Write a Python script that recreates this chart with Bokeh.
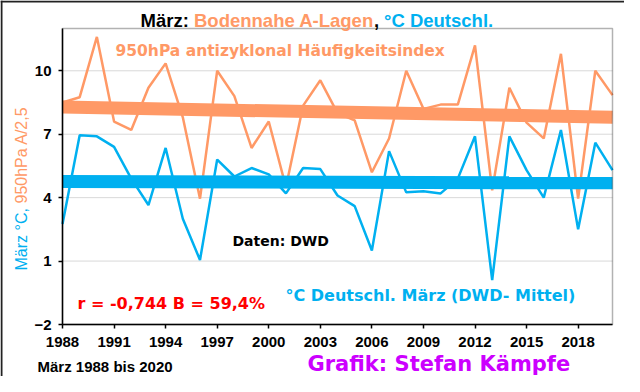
import math
import numpy as np
from bokeh.plotting import figure
from bokeh.models import Range1d, FixedTicker, Label, Span, BoxAnnotation
from bokeh.embed import file_html
from bokeh.resources import INLINE

# ---------------- data ----------------
years = list(range(1988, 2021))
a_lagen = [8.5, 8.75, 11.6, 7.6, 7.2, 9.2, 10.35, 7.8, 3.95, 10.0,
           8.8, 6.35, 7.6, 4.5, 8.35, 9.55, 8.0, 7.65, 5.2, 6.8,
           10.0, 8.2, 8.4, 8.4, 11.2, 4.35, 9.2, 7.55, 6.8, 10.8,
           3.95, 10.0, 8.85]
temp_de = [2.75, 6.95, 6.9, 6.4, 4.9, 3.65, 6.35, 3.0, 1.05, 5.8,
           5.0, 5.4, 5.1, 4.2, 5.4, 5.35, 4.1, 3.6, 1.5, 6.2,
           4.25, 4.3, 4.2, 4.9, 6.9, 0.1, 6.9, 5.3, 4.0, 7.2,
           2.5, 6.6, 5.3]
y_ticks = [-2, 1, 4, 7, 10]
x_ticks = list(range(1988, 2019, 3))
y_top = 12

ORANGE = "#FF9966"
BLUE = "#00B0F0"
RED = "#FF0000"
MAGENTA = "#CC00FF"

# ---------------- layout (pixels) ----------------
W, H = 624, 376
FL, FR, FT, FB = 62, 612, 28, 324   # plot box in pixels
X0, X1 = years[0], years[-1]
Y0, Y1 = y_ticks[0], y_top
sx = (FR - FL) / (X1 - X0)
sy = (FB - FT) / (Y1 - Y0)

p = figure(width=W, height=H, output_backend="svg", toolbar_location=None,
           title=None,
           x_range=Range1d(X0 - FL / sx, X1 + (W - FR) / sx),
           y_range=Range1d(Y0 - (H - FB) / sy, Y1 + FT / sy),
           min_border_left=0, min_border_right=0,
           min_border_top=0, min_border_bottom=0)
p.background_fill_color = "white"
p.border_fill_color = "white"
p.outline_line_color = None

for ax in (p.xaxis[0], p.yaxis[0]):
    ax.axis_line_color = "black"
    ax.axis_line_width = 1.5
    ax.major_tick_line_color = "black"
    ax.major_tick_line_width = 1.5
    ax.major_tick_in = 0
    ax.major_tick_out = 4
    ax.minor_tick_line_color = None
    ax.major_label_text_font = "Liberation Sans"
    ax.major_label_text_font_style = "bold"
    ax.major_label_text_font_size = "15px"
    ax.major_label_text_color = "black"

p.xaxis.fixed_location = Y0
p.yaxis.fixed_location = X0
p.xaxis.bounds = (X0, X1)
p.yaxis.bounds = (Y0, Y1)
p.xaxis.ticker = FixedTicker(ticks=x_ticks)
p.yaxis.ticker = FixedTicker(ticks=y_ticks)
p.xaxis.major_label_standoff = 8
p.yaxis.major_label_standoff = 7

p.xgrid.visible = False
p.ygrid.visible = False

# horizontal gridlines restricted to the plot box
p.segment(x0=[X0] * (len(y_ticks) - 1), x1=[X1] * (len(y_ticks) - 1),
          y0=y_ticks[1:], y1=y_ticks[1:], line_color="#D9D9D9", line_width=1)

# plot box
p.add_layout(BoxAnnotation(left=X0, right=X1, bottom=Y0, top=Y1,
                           fill_alpha=0, line_color="black", line_width=1.5))

# outer picture border (left / top)
p.add_layout(Span(location=X0 - (FL - 1) / sx, dimension="height",
                  line_color="#222222", line_width=2))
p.add_layout(Span(location=Y1 + (FT - 1) / sy, dimension="width",
                  line_color="#222222", line_width=2))

# ---------------- series ----------------
xs_end = [years[0], years[-1]]
coef_a = np.polyfit(years, a_lagen, 1)
coef_t = np.polyfit(years, temp_de, 1)

p.line(years, a_lagen, line_color=ORANGE, line_width=2.5)
p.line(xs_end, list(np.polyval(coef_a, xs_end)), line_color=ORANGE, line_width=13)
p.line(years, temp_de, line_color=BLUE, line_width=2.5)
p.line(xs_end, list(np.polyval(coef_t, xs_end)), line_color=BLUE, line_width=13)


# ---------------- texts (positions in picture pixels) ----------------
def lab(x, y, text, color, font, size, bold=True, angle=0.0):
    p.add_layout(Label(x=x, y=H - y, x_units="screen", y_units="screen",
                       text=text, text_color=color,
                       text_font=font, text_font_size=size,
                       text_font_style="bold" if bold else "normal",
                       text_align="left", text_baseline="alphabetic",
                       angle=angle))


# title (multi-coloured)
lab(140, 20, "März:", "black", "Liberation Sans", "18.5px")
lab(193.5, 20, "Bodennahe A-Lagen", ORANGE, "Liberation Sans", "18.5px")
lab(373.5, 20, ",", "black", "Liberation Sans", "18.5px")
lab(383.5, 20, "°C Deutschl.", BLUE, "Liberation Sans", "18.5px")

# y axis label (two colours, rotated)
lab(21, 270, "März °C,", BLUE, "Liberation Sans", "16px", bold=False, angle=math.pi / 2)
lab(21, 203, "950hPa A/2,5", ORANGE, "Liberation Sans", "16px", bold=False, angle=math.pi / 2)

# annotations inside the plot box
lab(115, 50, "950hPa antizyklonal Häufigkeitsindex", ORANGE, "DejaVu Sans", "15.5px")
lab(232, 240, "Daten: DWD", "black", "DejaVu Sans", "14px")
lab(77, 303, "r = -0,744 B = 59,4%", RED, "DejaVu Sans", "16px")
lab(285, 295, "°C Deutschl. März (DWD- Mittel)", BLUE, "DejaVu Sans", "16px")

# footer
lab(37, 366, "März 1988 bis 2020", "black", "Liberation Sans", "15px")
lab(307, 363, "Grafik: Stefan Kämpfe", MAGENTA, "DejaVu Sans", "21px")

open("out.html", "w").write(file_html(p, INLINE))
